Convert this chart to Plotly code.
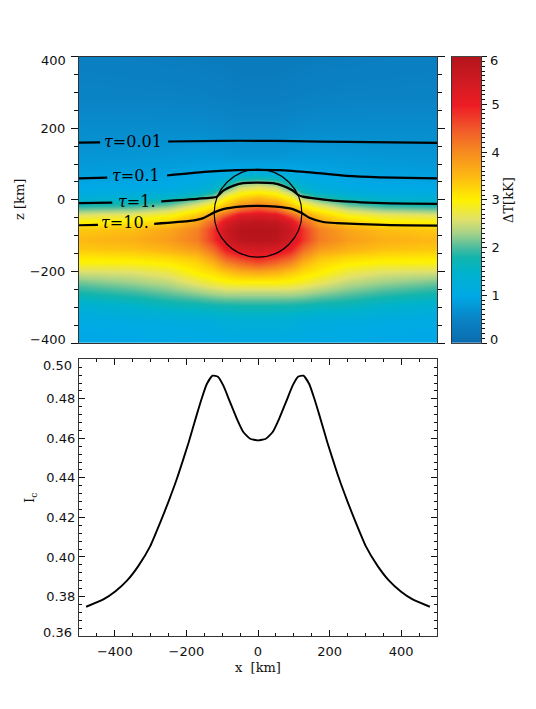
import plotly.graph_objects as go

W, H = 536, 709

# Delta-T field (x >= 0 half; the map is mirror-symmetric)
x_half = [0, 50, 90, 125, 170, 250, 350, 500]
z_rows = [400, 300, 200, 120, 85, 61, 47, 35, 23, 5, -14, -30, -42, -60, -84,
          -110, -140, -160, -176, -200, -228, -260, -297, -340, -400]
col_0 = [.30, .38, .55, .75, 1.0, 1.7, 2.3, 2.7, 3.0, 3.5, 4.1, 4.8, 5.3, 5.8, 6.0, 5.9, 5.4, 5.0, 4.6, 3.7, 3.0, 2.4, 1.8, 1.3, 1.05]
col_50 = [.30, .38, .55, .75, 1.0, 1.6, 2.15, 2.55, 2.85, 3.3, 3.9, 4.5, 5.2, 5.7, 5.95, 5.85, 5.3, 4.8, 4.35, 3.6, 3.0, 2.4, 1.8, 1.3, 1.05]
col_90 = [.32, .40, .58, .78, .98, 1.25, 1.6, 2.0, 2.4, 2.95, 3.4, 3.9, 4.5, 5.3, 5.6, 5.5, 5.0, 4.5, 4.05, 3.4, 2.95, 2.4, 1.78, 1.25, 1.05]
col_125 = [.33, .42, .60, .80, .95, 1.1, 1.25, 1.45, 1.75, 2.35, 2.95, 3.4, 3.8, 4.4, 4.8, 4.8, 4.3, 3.9, 3.55, 3.2, 2.85, 2.35, 1.75, 1.2, 1.03]
col_170 = [.35, .44, .62, .80, .92, 1.0, 1.1, 1.2, 1.4, 1.95, 2.6, 3.05, 3.35, 3.75, 4.1, 4.15, 3.8, 3.45, 3.25, 3.05, 2.7, 2.25, 1.7, 1.15, 1.02]
col_250 = [.36, .45, .62, .78, .88, .95, 1.0, 1.08, 1.2, 1.6, 2.1, 2.6, 2.9, 3.3, 3.7, 3.8, 3.55, 3.25, 3.05, 2.75, 2.45, 2.1, 1.65, 1.12, 1.01]
col_350 = [.38, .46, .62, .76, .85, .92, .97, 1.02, 1.12, 1.4, 1.85, 2.35, 2.7, 3.05, 3.45, 3.6, 3.4, 3.15, 2.95, 2.6, 2.3, 1.95, 1.5, 1.08, 1.0]
col_500 = [.40, .47, .62, .74, .83, .90, .95, 1.0, 1.08, 1.3, 1.75, 2.25, 2.6, 3.0, 3.35, 3.5, 3.35, 3.1, 2.95, 2.55, 2.15, 1.8, 1.35, 1.05, 1.0]
cols_half = [col_0, col_50, col_90, col_125, col_170, col_250, col_350, col_500]

# Optical-depth contours (None = gap for the label)
tau001_x = [-500, -441, None, -251, -100, 0, 100, 250, 500]
tau001_z = [160, 160.5, None, 163, 165, 165, 164, 162, 159]
tau01_x = [-500, -421, None, -254, -150, -60, 0, 60, 153, 247, 340, 500]
tau01_z = [60, 62, None, 68, 78, 83, 84, 83, 76, 67, 63, 60]
tau1_x = [-500, -407, None, -270, -170, -115, -97, -70, -42, 0, 42, 70, 97, 112, 125, 220, 350, 500]
tau1_z = [-9, -8, None, -4, 3, 9, 26, 39, 46.5, 48, 46.5, 39, 26, 14, 9, -3, -9, -11]
tau10_x = [-500, -447, None, -290, -190, -153, -122, -97, -50, 0, 50, 97, 122, 145, 182, 220, 350, 500]
tau10_z = [-71, -70, None, -67, -59, -51, -35, -26, -19, -17, -19, -26, -37, -51, -62, -65, -70, -72]

tau_labels = ["τ=0.01", "τ=0.1", "τ=1.", "τ=10."]
tau_label_x = [-349, -341, -338, -372]
tau_label_z = [163, 68, -5, -64]

# Continuum intensity along x
ic_x = [-480, -432, -399, -366, -334, -301, -273, -250, -232, -222, -194, -171, -157, -143, -127, -112, -97, -78, -59, -41, -22, 0,
        22, 41, 59, 78, 97, 112, 127, 143, 157, 171, 194, 222, 232, 250, 273, 301, 334, 366, 399, 432, 480]
ic_y = [.3748, .3785, .3825, .3880, .3955, .4055, .4175, .4280, .4368, .4420, .4578, .4720, .4803, .4875, .4917, .4912, .4868, .4783, .4699, .4632, .4598, .4590,
        .4598, .4632, .4699, .4783, .4868, .4912, .4917, .4875, .4803, .4720, .4578, .4420, .4368, .4280, .4175, .4055, .3955, .3880, .3825, .3785, .3748]

# Axis ticks
z_ticks = [-400, -200, 0, 200, 400]
z_label_ticks = [-200, 0, 200]
z_text = ["−200", "0", "200"]
ic_ticks = [.38, .40, .42, .44, .46, .48]
ic_text = ["0.38", "0.40", "0.42", "0.44", "0.46", "0.48"]
x_ticks = [-400, -200, 0, 200, 400]
x_text = ["−400", "−200", "0", "200", "400"]
cb_levels = [0, 0.5, 1, 1.5, 2, 2.5, 3, 3.5, 4, 4.5, 5, 5.5, 6]
cb_ticks = [0, 1, 2, 3, 4, 5, 6]
cb_label_ticks = [1, 2, 3, 4, 5]
cb_text = ["1", "2", "3", "4", "5"]

colorscale = [
    [0 / 6, "#0b6cae"], [0.5 / 6, "#0a84c6"], [1 / 6, "#00a9e6"], [1.5 / 6, "#00b3cc"],
    [1.8 / 6, "#12b5ae"], [2.0 / 6, "#48bca0"], [2.3 / 6, "#a3d28a"], [2.6 / 6, "#e2e26a"],
    [3 / 6, "#fff200"], [3.5 / 6, "#fdb913"], [4 / 6, "#f68b20"], [4.5 / 6, "#f1592a"],
    [5 / 6, "#ed1c24"], [5.5 / 6, "#cf1a22"], [1, "#b5141a"],
]

x_full = [-v for v in x_half[:0:-1]] + x_half
cols_full = cols_half[:0:-1] + cols_half
z_matrix = [[c[i] for c in cols_full] for i in range(len(z_rows))]

INK = "#111111"
TICKF = dict(family="DejaVu Sans", size=13, color=INK)
TITLEF = dict(family="DejaVu Serif", size=13, color=INK)

fig = go.Figure()
fig.add_trace(go.Heatmap(x=x_full, y=z_rows, z=z_matrix, zsmooth="best", coloraxis="coloraxis",
                         xaxis="x", yaxis="y", hoverinfo="skip"))
for xs, zs in [(tau001_x, tau001_z), (tau01_x, tau01_z), (tau1_x, tau1_z), (tau10_x, tau10_z)]:
    fig.add_trace(go.Scatter(x=xs, y=zs, mode="lines", line=dict(color="black", width=2.2, shape="spline", smoothing=0.6),
                             connectgaps=False, xaxis="x", yaxis="y", showlegend=False))
fig.add_trace(go.Scatter(x=ic_x, y=ic_y, mode="lines", line=dict(color="black", width=1.9, shape="spline", smoothing=0.5),
                         xaxis="x2", yaxis="y2", showlegend=False))
fig.add_trace(go.Heatmap(x=[0, 1], y=cb_levels, z=[[v, v] for v in cb_levels], zsmooth="best",
                         coloraxis="coloraxis", xaxis="x3", yaxis="y3", hoverinfo="skip"))

# invisible carriers so that the tick-only overlay axes get drawn
for xa, ya, xv, yv in [("x", "y4", 0, 0), ("x", "y6", 0, 0), ("x2", "y5", 0, .4), ("x5", "y2", 0, .4), ("x3", "y7", .5, 3)]:
    fig.add_trace(go.Scatter(x=[xv], y=[yv], mode="markers", marker=dict(opacity=0, size=1), xaxis=xa, yaxis=ya,
                             hoverinfo="skip", showlegend=False))

annotations = []
for t, xv, zv in zip(tau_labels, tau_label_x, tau_label_z):
    annotations.append(dict(x=xv, y=zv, xref="x", yref="y", text=t.replace("τ", "<i>τ</i>"), showarrow=False,
                            xanchor="center", yanchor="middle",
                            font=dict(family="DejaVu Serif", size=16, color="black")))


def end_label(text, px, py, anchor):
    return dict(x=px / W, y=1 - py / H, xref="paper", yref="paper", text=text, showarrow=False,
                xanchor=anchor, yanchor="middle", font=TICKF)


annotations += [
    end_label("400", 68, 60.5, "right"), end_label("−400", 68, 340, "right"),
    end_label("0.50", 74, 365, "right"), end_label("0.36", 74, 632, "right"),
    end_label("6", 488, 60.5, "left"), end_label("0", 488, 339.5, "left"),
]
for text, px, py, rot in [("z [km]", 19, 200, -90), ("ΔT[kK]", 508, 200, -90), ("I<sub>c</sub>", 30, 498, -90), ("x  [km]", 258, 667, 0)]:
    annotations.append(dict(x=px / W, y=1 - py / H, xref="paper", yref="paper", text=text.replace("  ", "\u00a0\u00a0"),
                            showarrow=False, textangle=rot, xanchor="center", yanchor="middle", font=TITLEF))


def ticks_only(side, ticks, vals, major, minor_len, dtick, tick0, overlay, anchor, domain, rng):
    d = dict(domain=domain, range=rng, anchor=anchor, overlaying=overlay, side=side, tickmode="array", tickvals=vals,
             ticks=ticks, ticklen=major, tickwidth=1.4, tickcolor=INK, showticklabels=False, showline=False,
             showgrid=False, zeroline=False,
             minor=dict(tick0=tick0, dtick=dtick, ticks=ticks, ticklen=minor_len, tickwidth=1.2, tickcolor=INK, showgrid=False))
    return d


top_dom = [1 - 343 / H, 1 - 56.7 / H]
low_dom = [1 - 636 / H, 1 - 359.3 / H]
plot_dom = [79 / W, 437 / W]

fig.update_layout(
    width=W, height=H, margin=dict(l=0, r=0, t=0, b=0), paper_bgcolor="white", plot_bgcolor="white",
    showlegend=False, font=TICKF,
    coloraxis=dict(colorscale=colorscale, cmin=0, cmax=6, showscale=False),
    annotations=annotations,
    xaxis=dict(domain=plot_dom, range=[-500, 500], anchor="y", showticklabels=False, ticks="",
               showline=True, mirror=True, linecolor="#333333", linewidth=1, showgrid=False, zeroline=False),
    yaxis=dict(domain=top_dom, range=[-400, 400], anchor="x", tickmode="array", tickvals=z_label_ticks,
               ticktext=z_text, ticks="", showline=True, mirror=True, ticklabelstandoff=10,
               linecolor="#333333", linewidth=1, showgrid=False, zeroline=False, tickfont=TICKF),
    yaxis4=ticks_only("right", "outside", z_ticks, 7, 4, 50, 0, "y", "x", top_dom, [-400, 400]),
    yaxis6=ticks_only("left", "outside", z_ticks, 7, 4, 50, 0, "y", "x", top_dom, [-400, 400]),
    xaxis2=dict(domain=plot_dom, range=[-500, 500], anchor="y2", tickmode="array", tickvals=x_ticks,
                ticktext=x_text, ticks="inside", ticklen=6, tickwidth=1.2, tickcolor=INK, showline=True, mirror=True,
                linecolor="#333333", linewidth=1.3, showgrid=False, zeroline=False, tickfont=TICKF, ticklabelstandoff=3,
                minor=dict(tick0=0, dtick=50, ticks="inside", ticklen=3, tickwidth=1.1, tickcolor=INK, showgrid=False)),
    xaxis5=ticks_only("top", "inside", x_ticks, 6, 3, 50, 0, "x2", "y2", plot_dom, [-500, 500]),
    yaxis2=dict(domain=low_dom, range=[0.36, 0.50], anchor="x2", tickmode="array", tickvals=ic_ticks,
                ticktext=ic_text, ticks="inside", ticklen=6, tickwidth=1.2, tickcolor=INK, showline=True, mirror=True,
                linecolor="#333333", linewidth=1.3, showgrid=False, zeroline=False, tickfont=TICKF,
                minor=dict(tick0=0.36, dtick=0.004, ticks="inside", ticklen=3, tickwidth=1.1, tickcolor=INK, showgrid=False)),
    yaxis5=ticks_only("right", "inside", ic_ticks, 6, 3, 0.004, 0.36, "y2", "x2", low_dom, [0.36, 0.50]),
    xaxis3=dict(domain=[452 / W, 481 / W], range=[0, 1], anchor="y3", showticklabels=False, ticks="", showline=True,
                mirror=True, linecolor="#444444", linewidth=1, showgrid=False, zeroline=False),
    yaxis3=dict(domain=top_dom, range=[0, 6], anchor="x3", side="right", tickmode="array", tickvals=cb_label_ticks,
                ticktext=cb_text, ticks="", ticklabelstandoff=7, showline=True, mirror=True,
                linecolor="#333333", linewidth=1, showgrid=False, zeroline=False, tickfont=TICKF),
    yaxis7=ticks_only("right", "outside", cb_ticks, 5, 2.5, 0.1, 0, "y3", "x3", top_dom, [0, 6]),
    shapes=[dict(type="circle", xref="x", yref="y", x0=-122.5, x1=122.5, y0=-160, y1=85,
                 line=dict(color="black", width=1.2), layer="above")],
)

fig.write_html("out.html", config={"displayModeBar": False},
               post_script="document.body.style.margin='0';document.body.style.overflow='hidden';")
